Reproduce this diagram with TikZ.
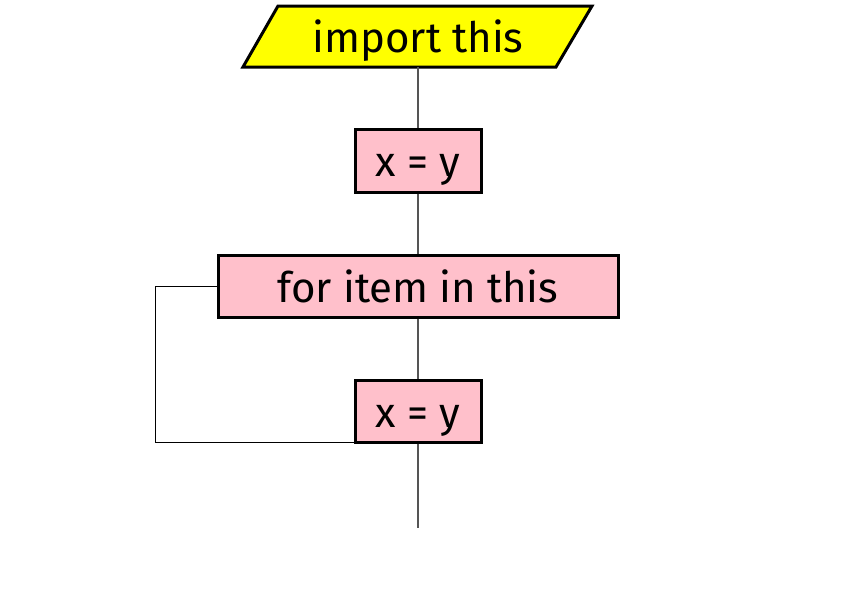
\documentclass[tikz,border=0pt]{standalone}
\usepackage{fontspec}
\setmainfont{Fira Sans}
\definecolor{pinkbox}{HTML}{FFC0CB}
\definecolor{yel}{HTML}{FFFF00}
\definecolor{conn}{HTML}{555555}
\begin{document}
\begin{tikzpicture}[x=1pt,y=1pt,
  label/.style={inner sep=0pt,text height=32pt,text depth=0pt,font=\fontsize{42}{46}\selectfont},
  procbox/.style={label,draw=black,line width=3pt,fill=pinkbox},
  flow/.style={draw=conn,line width=1.2pt},
  loopline/.style={draw=black,line width=1pt}]
\useasboundingbox (0,0) rectangle (861,-592);
% parallelogram
\coordinate (p1) at (278,-6);
\coordinate (p2) at (592,-6);
\coordinate (p3) at (556,-67);
\coordinate (p4) at (243,-67);
\draw[line width=3pt,fill=yel,line join=miter] (p1) -- (p2) -- (p3) -- (p4) -- cycle;
\node[label] (imp) at (418,-36.5) {import this};
\coordinate (impb) at (418,-67);
\coordinate (endpt) at (418,-528);
\node[procbox,minimum width=126,minimum height=63] (b1) at (418,-160.5) {x = y};
\node[procbox,minimum width=400,minimum height=62] (b2) at (418,-286) {for item in this};
\node[procbox,minimum width=126,minimum height=62] (b3) at (418,-411) {x = y};
\draw[flow] (impb) -- (b1.north);
\draw[flow] (b1.south) -- (b2.north);
\draw[flow] (b2.south) -- (b3.north);
\draw[flow] (b3.south) -- (endpt);
\draw[loopline] (b2.west) -- ++(-61,0) |- ([yshift=1]b3.south west);
\end{tikzpicture}
\end{document}
